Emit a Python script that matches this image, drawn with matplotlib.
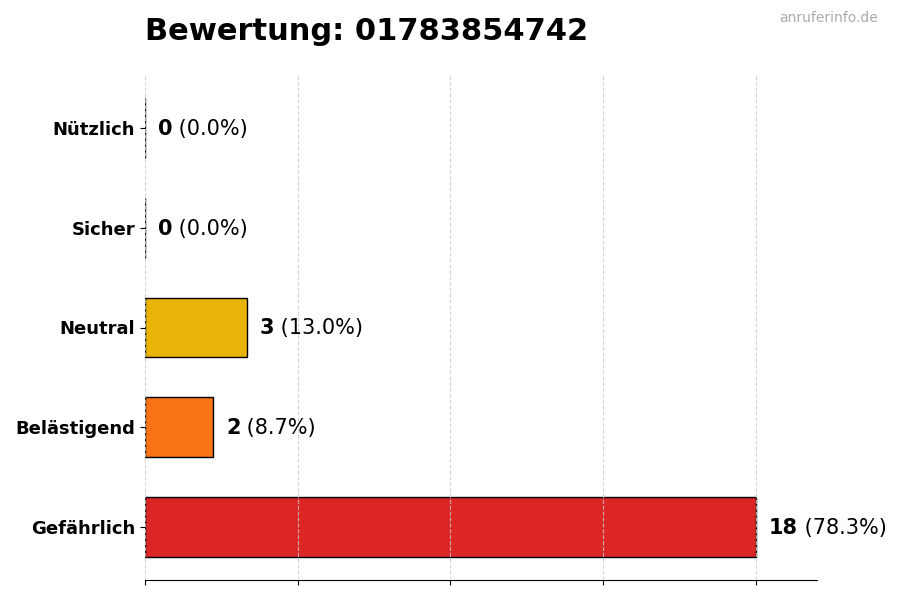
import matplotlib
matplotlib.use("Agg")
import matplotlib.pyplot as plt
from matplotlib.transforms import offset_copy

# Daten (von oben nach unten im Diagramm)
categories = ["Nützlich", "Sicher", "Neutral", "Belästigend", "Gefährlich"]
counts = [0, 0, 3, 2, 18]
percents = [0.0, 0.0, 13.0, 8.7, 78.3]
colors = ["#22C55E", "#3B82F6", "#EAB308", "#F97316", "#DC2626"]
number = "01783854742"

fig = plt.figure(figsize=(9, 6), dpi=100)
ax = fig.add_axes([145 / 900, 20 / 600, 672 / 900, 505 / 600])

# unten anfangen, damit "Nützlich" oben steht
ypos = list(range(len(categories)))[::-1]
ax.barh(ypos, counts, height=0.6, color=colors, edgecolor="black", linewidth=1)

ax.set_yticks(ypos)
ax.set_yticklabels(categories, fontsize=13, fontweight="bold")
ax.set_xlim(0, max(counts) * 1.1)
ax.set_xticks([0, 4.5, 9, 13.5, 18])
ax.set_xticklabels([])
ax.grid(True, axis="x", linestyle="--", color="#cccccc", alpha=0.8)
ax.set_axisbelow(False)
for s in ["top", "right", "left"]:
    ax.spines[s].set_visible(False)

fig.canvas.draw()
renderer = fig.canvas.get_renderer()
for y, c, p in zip(ypos, counts, percents):
    t1 = ax.text(c, y, str(c), fontsize=15, fontweight="bold", va="center",
                 transform=offset_copy(ax.transData, fig=fig, x=13, y=-1, units="dots"))
    w = t1.get_window_extent(renderer).width
    ax.text(c, y, f" ({p:.1f}%)", fontsize=15, va="center",
            transform=offset_copy(ax.transData, fig=fig, x=13 + w, y=-1, units="dots"))

fig.text(145 / 900, 568 / 600, f"Bewertung: {number}", fontsize=22,
         fontweight="bold", va="center", ha="left")
fig.text(878 / 900, 582 / 600, "anruferinfo.de", fontsize=10, color="#aaaaaa",
         ha="right", va="center")

fig.savefig("out.png", dpi=100)
